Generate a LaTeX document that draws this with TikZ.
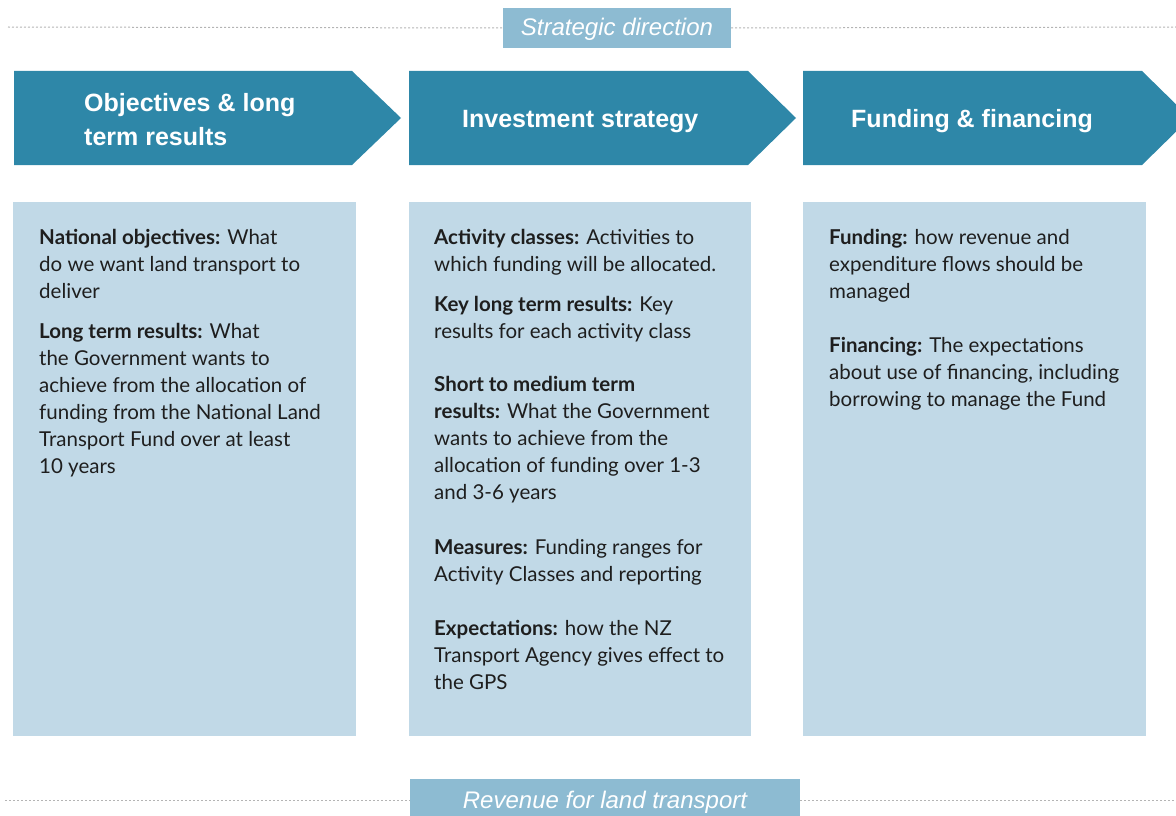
\documentclass[tikz,border=0pt]{standalone}
\usepackage{fontspec}
\setmainfont{Lato}
\newfontfamily\headfont{Liberation Sans}
\newfontfamily\labelfont{Liberation Sans}
\definecolor{chev}{HTML}{2E87A8}
\definecolor{boxbg}{HTML}{C1D9E7}
\definecolor{lblbg}{HTML}{8DBBD2}
\definecolor{dashc}{HTML}{B4B4B4}
\definecolor{txt}{HTML}{1E1E1E}
\begin{document}
\begin{tikzpicture}[x=1pt,y=-1pt,
  dashline/.style={draw=dashc,line width=1pt,dash pattern=on 2pt off 2pt},
  chevfill/.style={fill=chev},
  boxfill/.style={fill=boxbg},
  lbl/.style={fill=lblbg,text=white,inner sep=0pt,text height=16pt,text depth=0pt,font=\labelfont\itshape\fontsize{24}{28}\selectfont},
  head/.style={text=white,inner sep=0pt,align=left,anchor=base west,font=\headfont\bfseries\fontsize{25}{34}\selectfont},
  para/.style={text=txt,inner sep=0pt,anchor=north west,align=left,font=\fontsize{20.5}{27}\selectfont},
]
\useasboundingbox (0,0) rectangle (1176,816);
\clip (0,0) rectangle (1176,816);
% top dashed line and label
\coordinate (tl) at (8,27);
\coordinate (tr) at (1176,27);
\node[lbl,minimum width=228pt,minimum height=40pt] (strat) at (617,28) {Strategic direction};
\draw[dashline] (tl) -- (strat.west);
\draw[dashline] (strat.east) -- (tr);
% bottom dashed line and label
\coordinate (bl) at (5,800);
\coordinate (br) at (1176,800);
\node[lbl,minimum width=390pt,minimum height=42pt] (rev) at (605,800) {Revenue for land transport};
\draw[dashline] (bl) -- (rev.west);
\draw[dashline] (rev.east) -- (br);
% chevrons
\fill[chevfill] (14,71) -- (352,71) -- (401,118) -- (352,165) -- (14,165) -- cycle;
\fill[chevfill] (409,71) -- (748,71) -- (796,118) -- (748,165) -- (409,165) -- cycle;
\fill[chevfill] (803,71) -- (1142,71) -- (1190,118) -- (1142,165) -- (803,165) -- cycle;
\node[head] (h1) at (84,145) {Objectives \& long\\term results};
\node[head] (h2) at (462,127) {Investment strategy};
\node[head] (h3) at (851,127) {Funding \& financing};
% content boxes
\fill[boxfill] (13,202) rectangle (356,736);
\fill[boxfill] (409,202) rectangle (751,736);
\fill[boxfill] (803,202) rectangle (1146,736);
% box 1
\node[para] (a1) at (39,229) {\textbf{National objectives:} What\\do we want land transport to\\deliver};
\node[para] (a2) at (39,323) {\textbf{Long term results:} What\\the Government wants to\\achieve from the allocation of\\funding from the National Land\\Transport Fund over at least\\10 years};
% box 2
\node[para] (b1) at (434,229) {\textbf{Activity classes:} Activities to\\which funding will be allocated.};
\node[para] (b2) at (434,296) {\textbf{Key long term results:} Key\\results for each activity class};
\node[para] (b3) at (434,376) {\textbf{Short to medium term}\\\textbf{results:} What the Government\\wants to achieve from the\\allocation of funding over 1-3\\and 3-6 years};
\node[para] (b4) at (434,539) {\textbf{Measures:} Funding ranges for\\Activity Classes and reporting};
\node[para] (b5) at (434,620) {\textbf{Expectations:} how the NZ\\Transport Agency gives effect to\\the GPS};
% box 3
\node[para] (c1) at (829,229) {\textbf{Funding:} how revenue and\\expenditure flows should be\\managed};
\node[para] (c2) at (829,337) {\textbf{Financing:} The expectations\\about use of financing, including\\borrowing to manage the Fund};
\end{tikzpicture}
\end{document}
